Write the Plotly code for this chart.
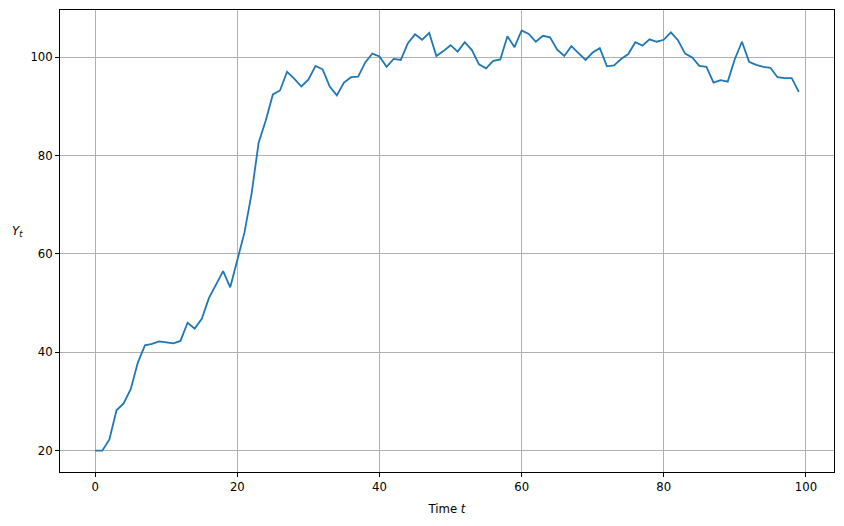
import plotly.graph_objects as go

t = list(range(100))
Y = [20.0, 20.0, 22.3, 28.2, 29.6, 32.5, 37.9, 41.4, 41.7, 42.2,
     42.0, 41.8, 42.3, 46.0, 44.8, 46.8, 51.0, 53.7, 56.5, 53.2,
     59.0, 64.3, 72.2, 82.6, 87.1, 92.4, 93.2, 97.0, 95.6, 94.0,
     95.4, 98.2, 97.5, 94.0, 92.2, 94.8, 95.9, 96.0, 98.9, 100.7,
     100.1, 98.0, 99.6, 99.4, 102.8, 104.6, 103.5, 104.9, 100.2, 101.2,
     102.4, 101.1, 103.0, 101.4, 98.5, 97.7, 99.2, 99.5, 104.2, 102.0,
     105.4, 104.7, 103.1, 104.3, 104.0, 101.5, 100.2, 102.2, 100.8, 99.4,
     100.9, 101.8, 98.1, 98.3, 99.6, 100.6, 103.0, 102.3, 103.6, 103.1,
     103.5, 105.0, 103.4, 100.7, 99.9, 98.2, 98.0, 94.8, 95.3, 95.0,
     99.6, 103.1, 99.0, 98.4, 98.0, 97.8, 95.9, 95.7, 95.7, 92.9]

x_ticks = [0, 20, 40, 60, 80, 100]
y_ticks = [20, 40, 60, 80, 100]

font = dict(family="DejaVu Sans", size=11.7, color="black")

fig = go.Figure()
fig.add_trace(go.Scatter(x=t, y=Y, mode="lines",
                         line=dict(color="#1f77b4", width=1.8),
                         showlegend=False, hoverinfo="skip"))

axis_common = dict(showgrid=True, gridcolor="#b0b0b0", gridwidth=0.8,
                   showline=True, linecolor="black", linewidth=0.9, mirror=True,
                   ticks="outside", ticklen=4, tickwidth=0.9, tickcolor="black",
                   zeroline=False, tickfont=font)

fig.update_xaxes(range=[-4.95, 103.95], tickvals=x_ticks,
                 title=dict(text="Time <i>t</i>", font=font, standoff=11),
                 **axis_common)
fig.update_yaxes(range=[15.67, 109.55], tickvals=y_ticks, **axis_common)

fig.add_annotation(text="<i>Y</i><sub><i>t</i></sub>", xref="paper", yref="paper",
                   x=-0.055, y=0.52, showarrow=False, font=font,
                   xanchor="center", yanchor="middle")

fig.update_layout(width=844, height=526,
                  margin=dict(l=59.5, r=9.5, t=10, b=54),
                  paper_bgcolor="white", plot_bgcolor="white",
                  font=font)

fig.write_html("out.html", config={"displayModeBar": False},
               post_script="document.body.style.margin='0';document.body.style.padding='0';")
